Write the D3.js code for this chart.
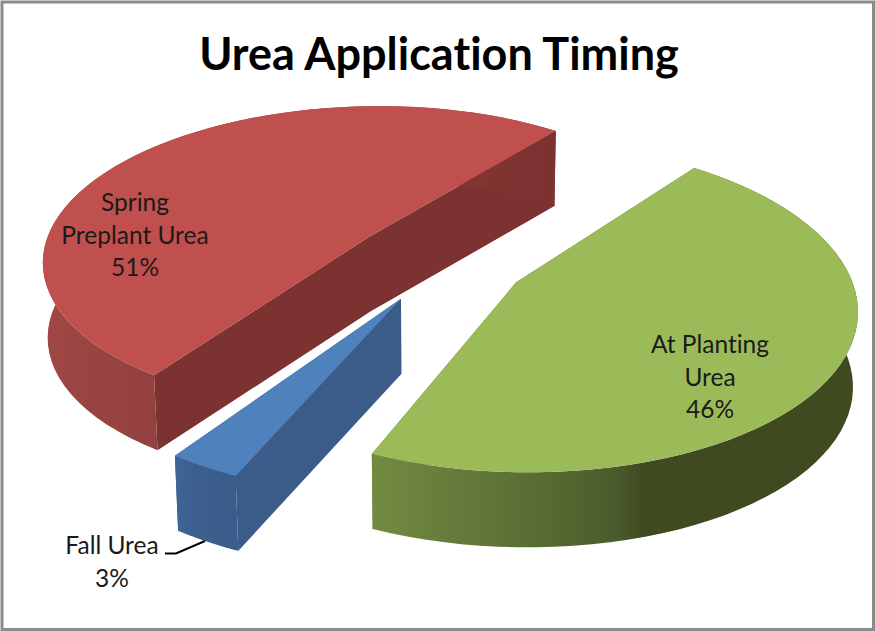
<!DOCTYPE html>
<html>
<head>
<meta charset="utf-8">
<script src="https://cdnjs.cloudflare.com/ajax/libs/d3/7.8.5/d3.min.js"></script>
<style>
    html, body { margin: 0; padding: 0; background: #fff; }
    svg { display: block; }
    text { font-family: Lato, "Open Sans", sans-serif; fill: #1a1a1a; text-anchor: middle; font-variant-ligatures: none; }
</style>
</head>
<body>
<div id="chart"></div>
<script>
const chartTitle = "Urea Application Timing";
const categories = ["Fall Urea", "Spring Preplant Urea", "At Planting Urea"];
const shares = [3, 51, 46];
const labelLines = [["Fall Urea"], ["Spring", "Preplant Urea"], ["At Planting", "Urea"]];

let width = 875,
    height = 631;

// Pie lies on a tilted plane, so u/v is plane space and x/y the screen
let firstAngle = 203.6 * Math.PI / 180;
let explode = [0.26, 0.285, 0.25];
let persp = 0.145;
let depth = 75;
let x = d3.scaleLinear().domain([-1, 1]).range([444 - 330, 444 + 330]);
let y = d3.scaleLinear().domain([-1, 1]).range([262 - 156, 262 + 156]);

let colors = ["#4f81bd", "#c0504d", "#9bbb59"];
let cutColors = ["#3b5c89", "#7c3230", "#5d7335"];
let wallStops = [
    [[0, "#3f6698"], [0.3, "#3c5f8d"], [1, "#3a5c8a"]],
    [[0, "#9f4744"], [0.22, "#934140"], [1, "#7c3230"]],
    [[0, "#738a42"], [0.3, "#5c7035"], [0.5, "#4a5c2b"], [0.56, "#3f4a21"], [1, "#3f4a21"]]
];
let labelPos = [[112, 546], [135, 203], [710, 345]];

let svg = d3.select("#chart").append("svg")
    .attr("width", width)
    .attr("height", height);

svg.append("rect")
    .attr("x", 2)
    .attr("y", 2)
    .attr("width", width - 3.5)
    .attr("height", height - 3.5)
    .attr("fill", "#fff")
    .attr("stroke", "#8c8c8c")
    .attr("stroke-width", 3);

let defs = svg.append("defs");

function project(u, v, low) {
    let w = 1 / (1 - persp * v);
    let px = x(u * w), py = y(v * w);
    if (low) {
        // bottom face is a little further away from the camera
        px = x(0) + (px - x(0)) * 0.988;
        py += depth;
    }
    return [px, py];
}

let line = d3.line();

let pie = d3.pie().sort(null).startAngle(firstAngle).endAngle(firstAngle + 2 * Math.PI);
let slices = pie(shares);

function rimPoints(d, low) {
    let mid = (d.startAngle + d.endAngle) / 2;
    let e = explode[d.index];
    let ou = e * Math.sin(mid), ov = -e * Math.cos(mid);
    return d3.range(0, 61).map(i => {
        let a = d.startAngle + (d.endAngle - d.startAngle) * i / 60;
        return project(ou + Math.sin(a), ov - Math.cos(a), low);
    });
}

function apexPoint(d, low) {
    let mid = (d.startAngle + d.endAngle) / 2;
    let e = explode[d.index];
    return project(e * Math.sin(mid), -e * Math.cos(mid), low);
}

// back to front so the front walls cover what they should
[1, 0, 2].forEach(i => {
    let d = slices[i];
    let top = rimPoints(d, false), low = rimPoints(d, true);
    let apex = apexPoint(d, false), apexLow = apexPoint(d, true);
    let g = svg.append("g");

    // cut faces, same path so no seam shows at the apex
    g.append("path")
        .attr("d", line([apex, top[0], low[0], apexLow]) + "Z" + line([apex, top[60], low[60], apexLow]) + "Z")
        .attr("fill", cutColors[i]);

    // outer wall, shading runs sideways
    let ext = d3.extent(low.concat(top), p => p[0]);
    let grad = defs.append("linearGradient")
        .attr("id", "wall" + i)
        .attr("gradientUnits", "userSpaceOnUse")
        .attr("x1", ext[0]).attr("x2", ext[1])
        .attr("y1", 0).attr("y2", 0);
    wallStops[i].forEach(s => {
        grad.append("stop").attr("offset", s[0]).attr("stop-color", s[1]);
    });
    g.append("path")
        .attr("d", line(top.concat(low.slice().reverse())) + "Z")
        .attr("fill", `url(#wall${i})`);

    g.append("path")
        .attr("d", line([apex].concat(top)) + "Z")
        .attr("fill", colors[i]);
});

// leader for the small slice
svg.append("path")
    .attr("d", line([[165, 553.5], [176, 553.5], [205, 541]]))
    .attr("fill", "none")
    .attr("stroke", "#000")
    .attr("stroke-width", 2);

svg.append("text")
    .attr("x", 439)
    .attr("y", 70)
    .style("font-size", "45px")
    .style("font-weight", 700)
    .style("fill", "#000")
    .text(chartTitle);

categories.forEach((c, i) => {
    let rows = labelLines[i].concat(shares[i] + "%");
    svg.append("g").selectAll("text").data(rows).enter()
        .append("text")
        .attr("x", labelPos[i][0])
        .attr("y", (r, k) => labelPos[i][1] + 8 + k * 32.5)
        .style("font-size", "24.5px")
        .text(r => r);
});
</script>
</body>
</html>
